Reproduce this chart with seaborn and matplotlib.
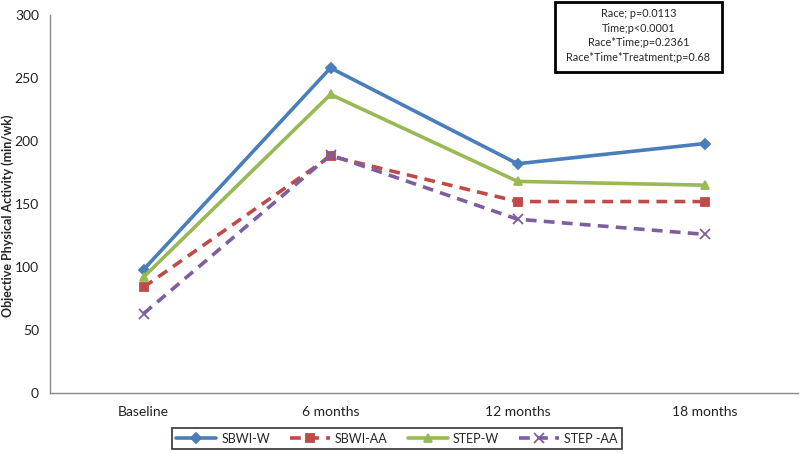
import matplotlib
matplotlib.use("Agg")
import matplotlib.pyplot as plt
import matplotlib.patches as mpatches
import seaborn as sns
import pandas as pd

timepoints = ["Baseline", "6 months", "12 months", "18 months"]
series_names = ["SBWI-W", "SBWI-AA", "STEP-W", "STEP -AA"]
sbwi_w = [98, 258, 182, 198]
sbwi_aa = [84, 188, 152, 152]
step_w = [92, 237, 168, 165]
step_aa = [63, 189, 138, 126]
y_ticks = [0, 50, 100, 150, 200, 250, 300]
stats_text = ["Race; p=0.0113", "Time;p<0.0001", "Race*Time;p=0.2361",
              "Race*Time*Treatment;p=0.68"]

values = [sbwi_w, sbwi_aa, step_w, step_aa]
rows = []
for name, vals in zip(series_names, values):
    for i, (t, v) in enumerate(zip(timepoints, vals)):
        rows.append({"Time": t, "pos": i, "Group": name, "Value": v})
df = pd.DataFrame(rows)

sns.set_theme(style="white")
plt.rcParams["font.family"] = ["Lato", "DejaVu Sans"]

colors = {"SBWI-W": "#4a7ebb", "SBWI-AA": "#be4b48", "STEP-W": "#98b954", "STEP -AA": "#7d5fa0"}
markers = {"SBWI-W": "D", "SBWI-AA": "s", "STEP-W": "^", "STEP -AA": "x"}
msizes = {"SBWI-W": 6, "SBWI-AA": 8, "STEP-W": 8, "STEP -AA": 9}
dashes = {"SBWI-W": (None, None), "SBWI-AA": (3, 2), "STEP-W": (None, None), "STEP -AA": (3, 2)}

fig = plt.figure(figsize=(8, 4.54), dpi=100)
ax = fig.add_axes([0.0625, 0.134, 0.935, 0.833])

for name in series_names:
    sub = df[df["Group"] == name]
    kw = {}
    if dashes[name][0] is not None:
        kw["dashes"] = dashes[name]
    sns.lineplot(data=sub, x="pos", y="Value", color=colors[name], marker=markers[name],
                 markersize=msizes[name], markeredgewidth=1.3,
                 markeredgecolor=colors[name], linewidth=2.6, label=name, ax=ax, **kw)

ax.set_xlim(-0.5, 3.5)
ax.set_ylim(0, 300)
ax.set_xticks(range(len(timepoints)))
ax.set_xticklabels(timepoints, fontsize=10)
ax.set_yticks(y_ticks)
ax.set_yticklabels([str(t) for t in y_ticks], fontsize=10)
ax.set_xlabel("")
ax.set_ylabel("Objective Physical Activity (min/wk)", fontsize=9, fontweight="bold")
ax.yaxis.set_label_coords(-0.048, 0.47)
ax.tick_params(axis="both", length=0, colors="#222222")
ax.tick_params(axis="x", pad=9)
ax.tick_params(axis="y", pad=8)
for s in ["top", "right"]:
    ax.spines[s].set_visible(False)
for s in ["left", "bottom"]:
    ax.spines[s].set_color("#888888")
    ax.spines[s].set_linewidth(1)

handles, labels = ax.get_legend_handles_labels()
for h in handles:
    h.set_markersize(h.get_markersize() * 0.8)
ax.legend(handles, labels, loc="center", bbox_to_anchor=(0.496, 0.0335), bbox_transform=fig.transFigure,
          ncol=4, frameon=True, fontsize=9, handlelength=3.2, columnspacing=1.6,
          fancybox=False, edgecolor="black", borderpad=0.35, handletextpad=0.4)
leg = ax.get_legend()
leg.get_frame().set_linewidth(1.2)

fig.patches.append(mpatches.Rectangle((0.694, 0.841), 0.209, 0.154, transform=fig.transFigure,
                                      facecolor="white", edgecolor="black", linewidth=2, zorder=5))
fig.text(0.798, 0.922, "\n".join(stats_text), ha="center", va="center", fontsize=7.8,
         linespacing=1.4, zorder=6)

fig.savefig("out.png", dpi=100)
